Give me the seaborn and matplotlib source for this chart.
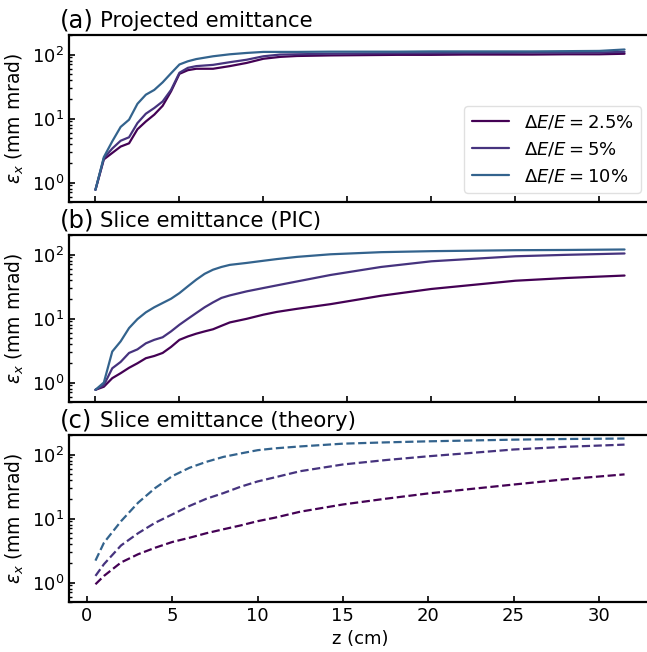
import numpy as np
import pandas as pd
import matplotlib
matplotlib.use("Agg")
import matplotlib.pyplot as plt
import seaborn as sns

# ---------------- data ----------------
labels = [r"$\Delta E/E = 2.5\%$", r"$\Delta E/E = 5\%$", r"$\Delta E/E = 10\%$"]
colors = ["#440154", "#46337e", "#33638d"]

# (a) projected emittance (PIC)
z_proj = [0, 0.5, 1, 1.5, 2, 2.5, 3, 3.5, 4, 4.5, 5, 5.5, 6, 7, 8, 9, 10, 11, 12, 14, 16, 18, 20, 22, 24, 26, 28, 30, 31.5]
proj_25 = [0.77, 2.3, 2.9, 3.65, 4.1, 6.8, 9.0, 11.5, 15.8, 26.6, 50, 57, 60, 60, 66, 74, 86, 92, 95, 97, 98, 99, 99, 100, 100, 100, 101, 101, 103]
proj_5 = [0.77, 2.4, 3.4, 4.5, 5.1, 8.5, 11.9, 14.6, 18.5, 28, 52, 62, 66, 69, 76, 83, 94, 100, 101, 103, 104, 105, 105, 106, 106, 107, 107, 108, 110]
proj_10 = [0.77, 2.5, 4.4, 7.4, 9.6, 17, 23.6, 28, 36.8, 51, 70, 78.5, 85, 94, 101, 106, 110, 110, 110, 111, 111, 111, 112, 112, 112, 112, 113, 114, 120]

# (b) slice emittance (PIC)
z_slice = [0, 0.5, 1, 1.5, 2, 2.5, 3, 3.5, 4, 4.5, 5, 5.5, 6, 6.5, 7, 7.5, 8, 9, 10, 10.8, 12, 14, 17, 20, 25, 28, 31.5]
slice_25 = [0.77, 0.86, 1.17, 1.4, 1.7, 2.0, 2.4, 2.6, 2.9, 3.6, 4.65, 5.25, 5.8, 6.3, 6.8, 7.7, 8.7, 9.9, 11.5, 12.7, 14.2, 16.8, 22.7, 29, 39, 43, 47]
slice_5 = [0.77, 0.91, 1.67, 2.1, 2.9, 3.3, 4.1, 4.65, 5.1, 6.3, 8.0, 9.9, 12.2, 15, 17.9, 21, 23, 26.6, 30, 33, 38, 48, 64, 78.5, 94, 99, 104]
slice_10 = [0.77, 1.0, 3.05, 4.4, 7.1, 9.8, 12.5, 15, 17.5, 20.4, 25, 31.9, 40.5, 50, 58, 64, 69, 74, 80, 85, 92, 101, 109, 113, 117, 118, 120]

# (c) slice emittance (theory)
z_theory = [0.5, 1, 2, 3, 4, 5, 6, 7, 8, 9, 10, 11, 12.5, 15, 17.5, 20, 22.5, 25, 28, 31.5]
theory_25 = [0.94, 1.27, 2.06, 2.77, 3.5, 4.3, 5.0, 5.9, 6.8, 7.8, 9.1, 10.3, 12.8, 16.6, 20.4, 24.7, 29, 34, 41, 49]
theory_5 = [1.27, 1.94, 3.8, 5.9, 8.6, 11.6, 15.7, 20.4, 25, 31.4, 38, 44, 55, 70, 82, 94, 106, 120, 132, 143]
theory_10 = [2.2, 4.2, 9.1, 17.7, 30, 46, 62, 77, 92, 104, 117, 125, 134, 148, 155, 161, 166, 171, 175, 178]

titles = [("(a)", "Projected emittance"), ("(b)", "Slice emittance (PIC)"), ("(c)", "Slice emittance (theory)")]

# ---------------- figure ----------------
sns.set_style("ticks")
plt.rcParams["font.family"] = ["DejaVu Sans"]
plt.rcParams["mathtext.fontset"] = "dejavusans"
for k in ["text.color", "axes.labelcolor", "axes.edgecolor", "xtick.color", "ytick.color"]:
    plt.rcParams[k] = "black"

W, H = 647, 652
fig = plt.figure(figsize=(W / 100, H / 100), dpi=100)

left = 69 / W
width = 582 / W
height = 166.5 / H
tops_px = [35.3, 235.3, 435.3]

panels = [
    (z_proj, [proj_25, proj_5, proj_10], "-"),
    (z_slice, [slice_25, slice_5, slice_10], "-"),
    (z_theory, [theory_25, theory_5, theory_10], "--"),
]

axes = []
for i, (zz, series, ls) in enumerate(panels):
    bottom = 1 - (tops_px[i] + 166.5) / H
    ax = fig.add_axes([left, bottom, width, height])
    axes.append(ax)
    for s, lab, c in zip(series, labels, colors):
        df = pd.DataFrame({"z": zz, "eps": s})
        sns.lineplot(data=df, x="z", y="eps", ax=ax, color=c, label=lab,
                     linestyle=ls, linewidth=1.6, legend=False)
    ax.set_yscale("log")
    ax.set_ylim(0.5, 200)
    ax.set_xticks([0, 5, 10, 15, 20, 25, 30])
    ax.set_xlabel("")
    ax.set_ylabel(r"$\epsilon_x$ (mm mrad)", fontsize=13.5)
    ax.tick_params(axis="both", which="both", direction="in", labelsize=13)
    ax.tick_params(axis="both", which="major", length=4, width=1.2)
    ax.tick_params(axis="y", which="minor", length=2.2, width=1.0)
    ax.tick_params(axis="x", which="minor", bottom=False)
    for sp in ["left", "top", "bottom"]:
        ax.spines[sp].set_linewidth(1.6)
        ax.spines[sp].set_color("black")
    ax.spines["right"].set_visible(False)
    if i < 2:
        ax.set_xticklabels([])
    ax.yaxis.set_label_coords(-0.074, 0.5)

    # panel titles
    base = 1 - (27.3 + 200 * i) / H
    fig.text(60 / W, base, titles[i][0], fontsize=17.5, va="baseline", ha="left")
    fig.text(100 / W, base, titles[i][1], fontsize=15.3, va="baseline", ha="left")

axes[2].set_xlabel("z (cm)", fontsize=13)

leg = axes[0].legend(loc="lower right", bbox_to_anchor=(0.983, 0.053), borderaxespad=0,
                     fontsize=13, handlelength=2.1, frameon=True)
leg.get_frame().set_edgecolor("0.85")

fig.savefig("out.png", dpi=100)
